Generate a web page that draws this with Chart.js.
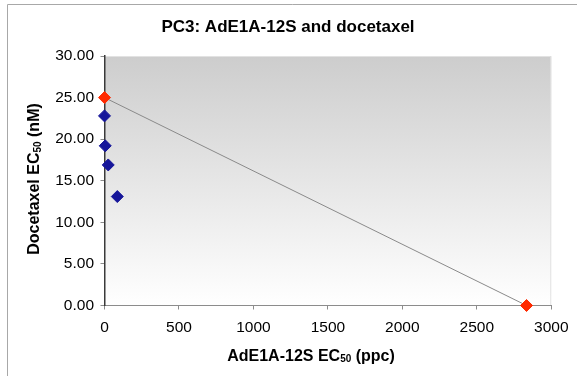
<!DOCTYPE html>
<html>
<head>
<meta charset="utf-8">
<script src="https://cdn.jsdelivr.net/npm/chart.js@4.4.1/dist/chart.umd.min.js"></script>
<style>
  html, body { margin: 0; padding: 0; background: #ffffff; }
  #wrap { position: relative; width: 577px; height: 376px; }
</style>
</head>
<body>
<div id="wrap"><canvas id="c" width="577" height="376"></canvas></div>
<script>
// AdE1A-12S EC50 (ppc) vs docetaxel EC50 (nM) for PC3 cells
const comboX = [0, 5, 25, 86];
const comboY = [22.8, 19.2, 16.9, 13.1];
const singleX = [0, 2834];
const singleY = [25.0, 0.0];
const xTicks = [0, 500, 1000, 1500, 2000, 2500, 3000];
const yTicks = [0, 5, 10, 15, 20, 25, 30];

const FONT = '"Liberation Sans", Arial, Helvetica, sans-serif';

const toPoints = (xs, ys) => xs.map((x, i) => ({ x: x, y: ys[i] }));

// gradient fill of the plot area plus a faint frame
const plotBackground = {
  id: 'plotBackground',
  beforeDraw(chart) {
    const { ctx, chartArea: a } = chart;
    ctx.save();
    // outer frame of the figure
    ctx.strokeStyle = '#a8a8a8';
    ctx.lineWidth = 1;
    ctx.beginPath();
    ctx.moveTo(7.5, 376);
    ctx.lineTo(7.5, 4.5);
    ctx.lineTo(577, 4.5);
    ctx.stroke();
    const g = ctx.createLinearGradient(0, a.top, 0, a.bottom);
    g.addColorStop(0, '#cdcdcd');
    g.addColorStop(1, '#ffffff');
    ctx.fillStyle = g;
    ctx.fillRect(a.left, a.top, a.right - a.left, a.bottom - a.top);
    ctx.strokeStyle = '#e2e2e2';
    ctx.beginPath();
    ctx.moveTo(a.left, a.top + 0.5);
    ctx.lineTo(a.right - 0.5, a.top + 0.5);
    ctx.lineTo(a.right - 0.5, a.bottom);
    ctx.stroke();
    ctx.restore();
  }
};

// draws "main" + subscript + "tail" centred on (0,0) of the current transform
function drawSubText(ctx, main, sub, tail, size) {
  const big = 'bold ' + size + 'px ' + FONT;
  const small = 'bold ' + Math.round(size * 0.62) + 'px ' + FONT;
  ctx.font = big;
  const w1 = ctx.measureText(main).width;
  const w3 = ctx.measureText(tail).width;
  ctx.font = small;
  const w2 = ctx.measureText(sub).width;
  let x = -(w1 + w2 + w3) / 2;
  ctx.textAlign = 'left';
  ctx.textBaseline = 'middle';
  ctx.font = big;
  ctx.fillText(main, x, 0);
  x += w1;
  ctx.font = small;
  ctx.fillText(sub, x, 3);
  x += w2;
  ctx.font = big;
  ctx.fillText(tail, x, 0);
}

const titles = {
  id: 'titles',
  afterDraw(chart) {
    const ctx = chart.ctx;
    ctx.save();
    ctx.fillStyle = '#000000';
    ctx.font = 'bold 17px ' + FONT;
    ctx.textAlign = 'center';
    ctx.textBaseline = 'middle';
    ctx.fillText('PC3: AdE1A-12S and docetaxel', 288, 27.5);

    ctx.translate(311, 356.5);
    drawSubText(ctx, 'AdE1A-12S EC', '50', ' (ppc)', 16);
    ctx.setTransform(1, 0, 0, 1, 0, 0);

    ctx.translate(35, 179);
    ctx.rotate(-Math.PI / 2);
    drawSubText(ctx, 'Docetaxel EC', '50', ' (nM)', 16);
    ctx.restore();
  }
};

new Chart(document.getElementById('c'), {
  type: 'scatter',
  data: {
    datasets: [
      {
        label: 'Isobole',
        data: toPoints(singleX, singleY),
        showLine: true,
        borderColor: '#8a8a8a',
        borderWidth: 1,
        pointRadius: 0,
        clip: false,
        order: 3
      },
      {
        label: 'Combination',
        data: toPoints(comboX, comboY),
        pointStyle: 'rectRot',
        pointRadius: 6,
        backgroundColor: '#16169a',
        borderColor: '#16169a',
        borderWidth: 1,
        clip: false,
        order: 2
      },
      {
        label: 'Single agent',
        data: toPoints(singleX, singleY),
        pointStyle: 'rectRot',
        pointRadius: 6,
        backgroundColor: '#ff2a00',
        borderColor: '#ff2a00',
        borderWidth: 1,
        clip: false,
        order: 1
      }
    ]
  },
  options: {
    responsive: false,
    animation: false,
    events: [],
    layout: { padding: { left: 0, right: 25, top: 56, bottom: 0 } },
    plugins: {
      legend: { display: false },
      tooltip: { enabled: false },
      title: { display: false }
    },
    scales: {
      x: {
        type: 'linear',
        min: xTicks[0],
        max: xTicks[xTicks.length - 1],
        afterBuildTicks(scale) { scale.ticks = xTicks.map(v => ({ value: v })); },
        afterFit(scale) { scale.height = 70.5; },
        border: { display: true, color: '#8c8c8c', width: 1 },
        grid: { drawOnChartArea: false, drawTicks: true, tickLength: 4, color: '#8c8c8c' },
        ticks: {
          color: '#000000',
          padding: 8.5,
          maxRotation: 0,
          font: { family: FONT, size: 15.5 },
          callback: v => String(v)
        }
      },
      y: {
        type: 'linear',
        min: yTicks[0],
        max: yTicks[yTicks.length - 1],
        afterBuildTicks(scale) { scale.ticks = yTicks.map(v => ({ value: v })); },
        afterFit(scale) { scale.width = 104.5; },
        border: { display: true, color: '#3a3a3a', width: 1.5 },
        grid: { drawOnChartArea: false, drawTicks: true, tickLength: 4, color: '#8c8c8c' },
        ticks: {
          color: '#000000',
          padding: 6.5,
          font: { family: FONT, size: 15.5 },
          callback: v => Number(v).toFixed(2)
        }
      }
    }
  },
  plugins: [plotBackground, titles]
});
</script>
</body>
</html>
